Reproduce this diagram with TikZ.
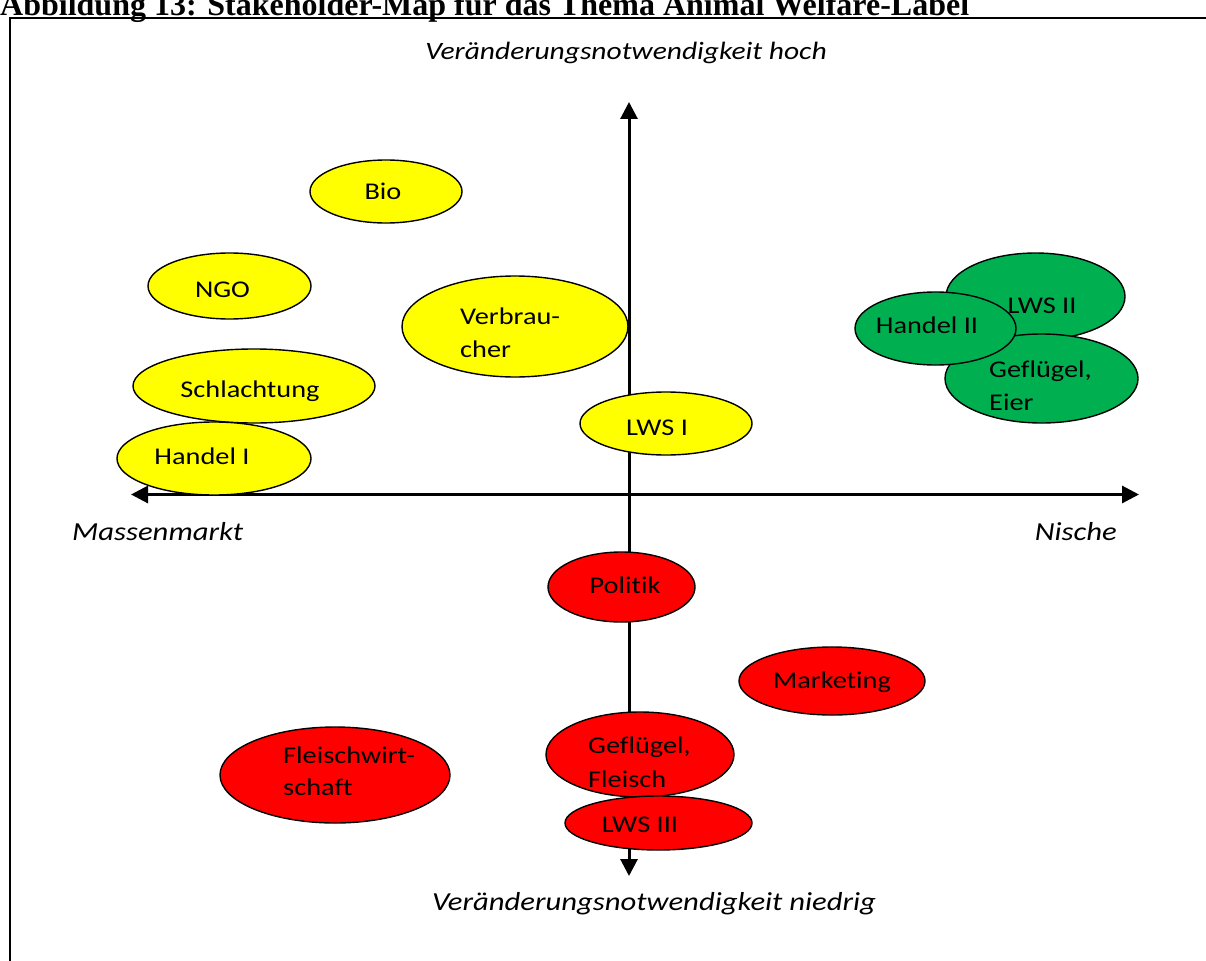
\documentclass[tikz,border=0pt]{standalone}
\usepackage{fontspec}
\setmainfont{Carlito}[FakeStretch=1.18,Ligatures=NoCommon]
\newfontfamily\titlefont{Liberation Serif}
\usetikzlibrary{shapes.geometric,arrows.meta}
\definecolor{cyel}{RGB}{255,255,0}
\definecolor{cgrn}{RGB}{0,176,80}
\definecolor{cred}{RGB}{255,0,0}
\tikzset{
  ell/.style={ellipse, draw=black, line width=1.4pt, inner sep=0pt, outer sep=0pt},
  yel/.style={ell, fill=cyel},
  grn/.style={ell, fill=cgrn},
  rd/.style={ell, fill=cred},
  lbl/.style={inner sep=0pt, anchor=base, font=\fontsize{24}{32}\selectfont},
  lbll/.style={inner sep=0pt, anchor=base west, font=\fontsize{24}{32}\selectfont},
  axlbl/.style={inner sep=0pt, font=\fontsize{26}{32}\selectfont\itshape},
  axis/.style={line width=3pt, {Triangle[length=17pt,width=17pt]}-{Triangle[length=17pt,width=17pt]}},
  frame/.style={line width=2pt, draw=black}
}
\begin{document}
\begin{tikzpicture}[x=1pt,y=-1pt]
\useasboundingbox (0,0) rectangle (1206,960);
% title and frame
\node[inner sep=0pt, anchor=base west, font=\titlefont\bfseries\fontsize{32}{34}\selectfont] (title) at (0,16) {Abbildung 13: Stakeholder-Map für das Thema Animal Welfare-Label};
\coordinate (fbl) at (9.5,965);
\coordinate (ftl) at (9.5,18.5);
\coordinate (ftr) at (1210,18.5);
\draw[frame] (fbl) -- (ftl) -- (ftr);
% axes
\coordinate (xl) at (131,494.5);
\coordinate (xr) at (1139,494.5);
\coordinate (yt) at (629,102);
\coordinate (yb) at (629,876);
\draw[axis] (xl) -- (xr);
\draw[axis] (yb) -- (yt);
% axis labels
\node[axlbl, anchor=base, font=\fontsize{25}{32}\selectfont\itshape] (hoch) at (626,60) {Veränderungsnotwendigkeit hoch};
\node[axlbl, anchor=base] (niedrig) at (654,910) {Veränderungsnotwendigkeit niedrig};
\node[axlbl, anchor=base west] (mass) at (72,540) {Massenmarkt};
\node[axlbl, anchor=base east] (nische) at (1117,540) {Nische};
% yellow
\node[yel, minimum width=152pt, minimum height=63pt] (bio) at (386,191.5) {};
\node[lbl] (biot) at (383,200) {Bio};
\node[yel, minimum width=163pt, minimum height=66pt] (ngo) at (229.5,286) {};
\node[lbl] (ngot) at (222.5,297) {NGO};
\node[yel, minimum width=226pt, minimum height=101pt] (verb) at (515,326.5) {};
\node[lbll] (verbt1) at (460,324) {Verbrau-};
\node[lbll] (verbt2) at (460,357) {cher};
\node[yel, minimum width=242pt, minimum height=74pt] (schl) at (254,386) {};
\node[lbl] (schlt) at (250,397) {Schlachtung};
\node[yel, minimum width=194pt, minimum height=73pt] (hand1) at (214,458.5) {};
\node[lbl] (hand1t) at (202,464) {Handel I};
\node[yel, minimum width=172pt, minimum height=63pt] (lws1) at (666,423.5) {};
\node[lbl] (lws1t) at (657,435) {LWS I};
% green
\node[grn, minimum width=179pt, minimum height=87pt] (lws2) at (1035.5,296.5) {};
\node[grn, minimum width=193pt, minimum height=89pt] (eier) at (1041.5,378.5) {};
\node[grn, minimum width=161pt, minimum height=73pt] (hand2) at (935.5,328.5) {};
\node[lbl] (lws2t) at (1042,313) {LWS II};
\node[lbl] (hand2t) at (927,333) {Handel II};
\node[lbll] (eiert1) at (989,377) {Geflügel,};
\node[lbll] (eiert2) at (989,410) {Eier};
% red
\node[rd, minimum width=147pt, minimum height=70pt] (pol) at (621.5,587) {};
\node[lbl] (polt) at (625,593) {Politik};
\node[rd, minimum width=186pt, minimum height=68pt] (mark) at (832,681) {};
\node[lbl] (markt) at (832,688) {Marketing};
\node[rd, minimum width=230pt, minimum height=96pt] (fw) at (335,775) {};
\node[lbll] (fwt1) at (283,763) {Fleischwirt-};
\node[lbll] (fwt2) at (283,795) {schaft};
\node[rd, minimum width=188pt, minimum height=85pt] (gf) at (640,754.5) {};
\node[rd, minimum width=187pt, minimum height=54pt] (lws3) at (658.5,823) {};
\node[lbll] (gft1) at (588,753) {Geflügel,};
\node[lbll] (gft2) at (588,787) {Fleisch};
\node[lbl] (lws3t) at (640,832) {LWS III};
\end{tikzpicture}
\end{document}
